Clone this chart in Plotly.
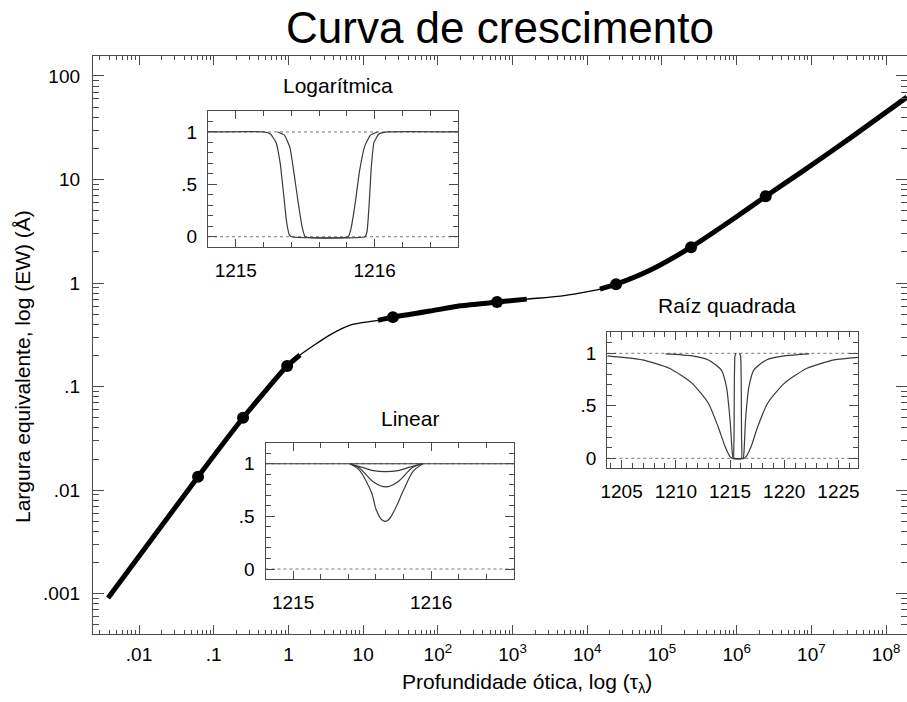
import plotly.graph_objects as go

# ---------------- main curve of growth ----------------
tau = [0.00385, 0.0617, 0.247, 0.96, 1.43, 3.6, 6.7, 15.8, 25, 79, 200, 620,
       1550, 4400, 14800, 24300, 69000, 245000, 813000, 2.45e6, 7.1e6, 3.3e7, 1.9e8]
ew = [0.00091, 0.0135, 0.050, 0.158, 0.202, 0.316, 0.393, 0.436, 0.469, 0.537, 0.603, 0.655,
      0.70, 0.748, 0.873, 0.975, 1.33, 2.22, 3.95, 6.89, 11.6, 25.1, 62.5]
thick_ranges = [(0.00385, 1.43), (15.8, 1550), (14800, 1.9e8)]
dot_tau = [0.0617, 0.247, 0.96, 25, 620, 24300, 245000, 2.45e6]
dot_ew = [0.0135, 0.050, 0.158, 0.469, 0.655, 0.975, 2.22, 6.89]

x_tickvals = [0.01, 0.1, 1, 10, 100, 1e3, 1e4, 1e5, 1e6, 1e7, 1e8]
x_ticktext = [".01", ".1", "1", "10", "10<sup>2</sup>", "10<sup>3</sup>", "10<sup>4</sup>",
              "10<sup>5</sup>", "10<sup>6</sup>", "10<sup>7</sup>", "10<sup>8</sup>"]
y_tickvals = [0.001, 0.01, 0.1, 1, 10, 100]
y_ticktext = [".001", ".01", ".1", "1", "10", "100"]

# ---------------- inset: Logarítmica ----------------
log_outer_x = [1214.8, 1215.20, 1215.25, 1215.29, 1215.32, 1215.345, 1215.365, 1215.385, 1215.40,
               1215.93, 1215.945, 1215.96, 1215.975, 1215.995, 1216.03, 1216.09, 1216.6]
log_outer_y = [1, 1, 0.98, 0.90, 0.70, 0.40, 0.15, 0.02, 0,
               0, 0.05, 0.30, 0.65, 0.90, 0.98, 1, 1]
log_inner_x = [1215.30, 1215.35, 1215.39, 1215.42, 1215.45, 1215.48, 1215.50,
               1215.81, 1215.83, 1215.86, 1215.89, 1215.93, 1215.97, 1216.02]
log_inner_y = [1, 0.97, 0.85, 0.60, 0.32, 0.08, 0,
               0, 0.08, 0.32, 0.62, 0.87, 0.97, 1]

# ---------------- inset: Linear ----------------
lin_cont_x = [1214.8, 1216.6]
lin_cont_y = [1, 1]
lin_a_x = [1215.41, 1215.50, 1215.58, 1215.67, 1215.76, 1215.84, 1215.93]
lin_a_y = [1, 0.965, 0.935, 0.925, 0.935, 0.965, 1]
lin_b_x = [1215.41, 1215.48, 1215.58, 1215.67, 1215.76, 1215.86, 1215.93]
lin_b_y = [1, 0.96, 0.83, 0.78, 0.83, 0.96, 1]
lin_c_x = [1215.41, 1215.48, 1215.57, 1215.60, 1215.64, 1215.67, 1215.70, 1215.75, 1215.80, 1215.87, 1215.94]
lin_c_y = [1, 0.94, 0.72, 0.57, 0.47, 0.452, 0.48, 0.60, 0.75, 0.93, 1]

# ---------------- inset: Raíz quadrada ----------------
sq_outer_x = [1203.68, 1206.9, 1209.4, 1211.5, 1213.0, 1213.9, 1214.55, 1215.0, 1215.21,
              1216.27, 1216.48, 1216.94, 1217.55, 1218.47, 1220.0, 1222.1, 1224.6, 1226.83]
sq_outer_y = [0.975, 0.937, 0.857, 0.714, 0.524, 0.30, 0.11, 0.016, 0,
              0, 0.016, 0.11, 0.30, 0.524, 0.714, 0.857, 0.937, 0.962]
sq_mid_x = [1209.05, 1211.5, 1213.0, 1214.2, 1214.67, 1215.0, 1215.21, 1215.3,
            1216.2, 1216.28, 1216.43, 1216.74, 1217.19, 1218.35, 1220.0, 1222.3]
sq_mid_y = [0.994, 0.975, 0.937, 0.84, 0.68, 0.365, 0.05, 0,
            0, 0.05, 0.365, 0.68, 0.84, 0.937, 0.975, 0.994]
sq_inner_x = [1215.55, 1215.45, 1215.40, 1215.37, 1215.37, 1216.06, 1216.06, 1216.03, 1215.98, 1215.88]
sq_inner_y = [1, 0.97, 0.75, 0.2, 0, 0, 0.2, 0.75, 0.97, 1]

FONT = "Liberation Sans, Arial, Helvetica, sans-serif"
AX = "#4a4a4a"
LC = "#3a3a3a"

fig = go.Figure()

# main thin curve
fig.add_trace(go.Scatter(x=tau, y=ew, mode="lines", line=dict(color="black", width=1.3, shape="spline", smoothing=0.6),
                         xaxis="x", yaxis="y", showlegend=False, hoverinfo="skip"))
for lo, hi in thick_ranges:
    sx = [t for t in tau if lo <= t <= hi]
    sy = [e for t, e in zip(tau, ew) if lo <= t <= hi]
    fig.add_trace(go.Scatter(x=sx, y=sy, mode="lines", line=dict(color="black", width=5, shape="spline", smoothing=0.6),
                             xaxis="x", yaxis="y", showlegend=False, hoverinfo="skip"))
fig.add_trace(go.Scatter(x=dot_tau, y=dot_ew, mode="markers", marker=dict(color="black", size=12),
                         xaxis="x", yaxis="y", showlegend=False))

def dotted(xr, xa, ya):
    for yv in (0, 1):
        fig.add_trace(go.Scatter(x=xr, y=[yv, yv], mode="lines", line=dict(color="#777", width=1, dash="dot"),
                                 xaxis=xa, yaxis=ya, showlegend=False, hoverinfo="skip"))

def prof(x, y, xa, ya, smooth=0.5):
    fig.add_trace(go.Scatter(x=x, y=y, mode="lines", line=dict(color=LC, width=1.2, shape="spline", smoothing=smooth),
                             xaxis=xa, yaxis=ya, showlegend=False, hoverinfo="skip"))

# inset 1
dotted([1214.8, 1216.6], "x2", "y2")
prof(log_outer_x, log_outer_y, "x2", "y2", 0.4)
prof(log_inner_x, log_inner_y, "x2", "y2", 0.4)
# inset 2
dotted([1214.8, 1216.6], "x3", "y3")
fig.add_trace(go.Scatter(x=lin_cont_x, y=lin_cont_y, mode="lines", line=dict(color=LC, width=1.2),
                         xaxis="x3", yaxis="y3", showlegend=False))
prof(lin_a_x, lin_a_y, "x3", "y3", 0.8)
prof(lin_b_x, lin_b_y, "x3", "y3", 0.8)
prof(lin_c_x, lin_c_y, "x3", "y3", 0.8)
# inset 3
dotted([1203.68, 1226.83], "x4", "y4")
prof(sq_outer_x, sq_outer_y, "x4", "y4", 0.6)
prof(sq_mid_x, sq_mid_y, "x4", "y4", 0.6)
prof(sq_inner_x, sq_inner_y, "x4", "y4", 0.3)

W, H = 907, 702
L, R, T, B = 93, 0, 56, 68
pw, ph = W - L - R, H - T - B

def fx(px):
    return (px - L) / pw

def fy(py):
    return (H - B - py) / ph

main_ax = dict(showline=True, linecolor=AX, linewidth=1.3, mirror="ticks", ticks="inside",
               tickcolor=AX, showgrid=False, zeroline=False, tickfont=dict(family=FONT, size=19, color="black"))

fig.update_layout(
    width=W, height=H, margin=dict(l=L, r=R, t=T, b=B),
    paper_bgcolor="white", plot_bgcolor="white",
    font=dict(family=FONT, color="black"),
    xaxis=dict(main_ax, type="log", range=[-2.616, 8.28], tickvals=x_tickvals, ticktext=x_ticktext,
               ticklen=9, tickwidth=1.2, ticklabelstandoff=3,
               minor=dict(dtick="D1", ticks="inside", ticklen=4, tickcolor=AX, showgrid=False),
               domain=[0, 1]),
    yaxis=dict(main_ax, type="log", range=[-3.389, 2.193], tickvals=y_tickvals, ticktext=y_ticktext,
               ticklen=11, tickwidth=1.2, ticklabelstandoff=8,
               minor=dict(dtick="D1", ticks="inside", ticklen=6, tickcolor=AX, showgrid=False),
               domain=[0, 1]),
)

def inset_axes(n, px0, px1, py0, py1, xr, xtv, xtt, xminor, xdt):
    xa = dict(domain=[fx(px0), fx(px1)], range=xr, anchor="y%d" % n, showline=True, linecolor=AX, linewidth=1.2,
              mirror="ticks", ticks="inside", ticklen=8, tickcolor=AX, showgrid=False, zeroline=False,
              tickmode="array", tickvals=xtv, ticktext=xtt,
              tickfont=dict(family=FONT, size=19, color="black"), ticklabelstandoff=6,
              minor=dict(tick0=xtv[0], dtick=xminor, ticks="inside", ticklen=5, tickcolor=AX, showgrid=False))
    ya = dict(domain=[fy(py1), fy(py0)], range=[-0.095, 1.2], anchor="x%d" % n, showline=True, linecolor=AX,
              linewidth=1.2, mirror="ticks", ticks="inside", ticklen=9, tickcolor=AX, showgrid=False, zeroline=False,
              tickmode="array", tickvals=[0, 0.5, 1], ticktext=["0", ".5", "1"],
              tickfont=dict(family=FONT, size=19, color="black"), ticklabelstandoff=6,
              minor=dict(tick0=0, dtick=0.1, ticks="inside", ticklen=5, tickcolor=AX, showgrid=False))
    fig.update_layout(**{"xaxis%d" % n: xa, "yaxis%d" % n: ya})

inset_axes(2, 208, 458, 111, 246.7, [1214.8, 1216.6], [1215, 1216], ["1215", "1216"], 0.2, 1)
inset_axes(3, 265.5, 514, 442.7, 579, [1214.8, 1216.6], [1215, 1216], ["1215", "1216"], 0.2, 1)
inset_axes(4, 607.3, 858.3, 332.3, 468.3, [1203.68, 1226.83], [1205, 1210, 1215, 1220, 1225],
           ["1205", "1210", "1215", "1220", "1225"], 1, 5)

def ann(text, px, py, size, angle=0):
    fig.add_annotation(text=text, xref="paper", yref="paper", x=fx(px), y=fy(py), showarrow=False,
                       xanchor="center", yanchor="middle", textangle=angle,
                       font=dict(family=FONT, size=size, color="black"))

ann("Curva de crescimento", 500, 28, 44)
ann("Logarítmica", 338, 85, 21)
ann("Linear", 410, 418, 21)
ann("Raíz quadrada", 727, 305, 21)
ann("Profundidade ótica, log (τ<sub>λ</sub>)", 527, 683, 21)
ann("Largura equivalente, log (EW) (Å)", 23, 367, 21, -90)

fig.write_html("out.html")
